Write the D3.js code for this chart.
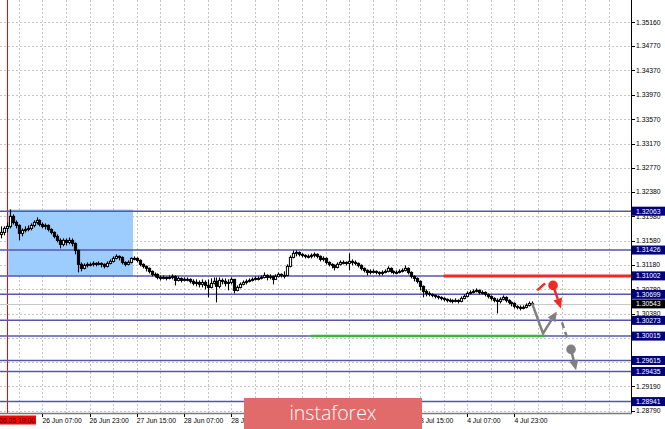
<!DOCTYPE html>
<html><head><meta charset="utf-8">
<script src="https://cdn.jsdelivr.net/npm/d3@7"></script>
<style>html,body{margin:0;padding:0;background:#fff;overflow:hidden}</style>
</head><body><svg id="c" width="665" height="429"></svg>
<script>
// ---------- DATA (GBP/USD H1, 25 Jun 17:00 -> 5 Jul 05:00) ----------
const firstOpen = 1.31682;
const closes = [
1.31715,1.31781,1.31814,1.31978,1.31879,1.31830,1.31699,1.31748,1.31764,1.31781,
1.31830,1.31879,1.31912,1.31846,1.31814,1.31830,1.31764,1.31715,1.31650,1.31584,
1.31519,1.31584,1.31551,1.31584,1.31535,1.31420,1.31191,1.31125,1.31174,1.31191,
1.31191,1.31207,1.31191,1.31207,1.31191,1.31158,1.31207,1.31240,1.31289,1.31322,
1.31305,1.31223,1.31191,1.31223,1.31289,1.31289,1.31256,1.31191,1.31158,1.31125,
1.31076,1.31027,1.31027,1.30977,1.30961,1.30977,1.30961,1.30977,1.30994,1.30928,
1.30961,1.30928,1.30945,1.30945,1.30912,1.30879,1.30895,1.30863,1.30895,1.30846,
1.30813,1.30879,1.30912,1.30830,1.30928,1.30912,1.30879,1.30895,1.30945,1.30764,
1.30813,1.30863,1.30895,1.30912,1.30928,1.30945,1.30961,1.30961,1.30977,1.31010,
1.30977,1.30994,1.30945,1.30994,1.31027,1.31010,1.31010,1.31158,1.31305,1.31371,
1.31387,1.31355,1.31338,1.31322,1.31322,1.31338,1.31355,1.31322,1.31273,1.31289,
1.31223,1.31191,1.31174,1.31141,1.31191,1.31223,1.31223,1.31207,1.31240,1.31223,
1.31207,1.31174,1.31125,1.31092,1.31059,1.31076,1.31076,1.31059,1.31043,1.31059,
1.31076,1.31125,1.31076,1.31059,1.31059,1.31076,1.31092,1.31125,1.31059,1.30994,
1.30961,1.30912,1.30830,1.30748,1.30715,1.30699,1.30682,1.30666,1.30650,1.30633,
1.30617,1.30600,1.30600,1.30584,1.30600,1.30584,1.30633,1.30666,1.30715,1.30731,
1.30748,1.30764,1.30731,1.30731,1.30699,1.30666,1.30633,1.30600,1.30584,1.30617,
1.30650,1.30600,1.30568,1.30551,1.30502,1.30486,1.30469,1.30486,1.30518,1.30551,
1.30543];
const highs = [
1.31814,1.31814,1.31879,1.32093,1.32010,1.31912,1.31846,1.31781,1.31814,1.31830,
1.31863,1.31912,1.31961,1.31929,1.31879,1.31863,1.31846,1.31781,1.31732,1.31682,
1.31617,1.31617,1.31617,1.31633,1.31617,1.31551,1.31437,1.31223,1.31207,1.31223,
1.31223,1.31240,1.31223,1.31240,1.31223,1.31207,1.31240,1.31273,1.31322,1.31355,
1.31338,1.31322,1.31240,1.31256,1.31305,1.31322,1.31305,1.31273,1.31207,1.31174,
1.31141,1.31092,1.31059,1.31043,1.31010,1.31010,1.30994,1.31010,1.31027,1.31010,
1.30994,1.30977,1.30977,1.30977,1.30961,1.30945,1.30945,1.30928,1.30945,1.30928,
1.30945,1.30961,1.30977,1.30977,1.30977,1.30961,1.30961,1.30945,1.30977,1.30945,
1.30846,1.30895,1.30928,1.30945,1.30961,1.30977,1.30994,1.30994,1.31010,1.31059,
1.31027,1.31027,1.31010,1.31027,1.31059,1.31043,1.31076,1.31191,1.31338,1.31420,
1.31420,1.31404,1.31371,1.31355,1.31355,1.31371,1.31387,1.31371,1.31338,1.31322,
1.31305,1.31240,1.31207,1.31191,1.31223,1.31256,1.31256,1.31240,1.31371,1.31273,
1.31256,1.31223,1.31191,1.31141,1.31109,1.31109,1.31109,1.31092,1.31076,1.31092,
1.31109,1.31158,1.31141,1.31092,1.31092,1.31109,1.31125,1.31174,1.31141,1.31076,
1.31010,1.30977,1.30928,1.30846,1.30781,1.30748,1.30715,1.30699,1.30682,1.30666,
1.30650,1.30633,1.30633,1.30617,1.30633,1.30617,1.30666,1.30699,1.30748,1.30764,
1.30781,1.30797,1.30781,1.30764,1.30748,1.30715,1.30682,1.30650,1.30633,1.30650,
1.30682,1.30666,1.30617,1.30584,1.30568,1.30518,1.30518,1.30518,1.30551,1.30584,
1.30584];
const lows = [
1.31617,1.31666,1.31715,1.31781,1.31846,1.31781,1.31584,1.31650,1.31715,1.31732,
1.31748,1.31797,1.31846,1.31814,1.31781,1.31764,1.31732,1.31682,1.31617,1.31551,
1.31453,1.31486,1.31502,1.31519,1.31486,1.31355,1.31059,1.31076,1.31109,1.31141,
1.31158,1.31158,1.31158,1.31174,1.31141,1.31125,1.31141,1.31191,1.31223,1.31273,
1.31256,1.31191,1.31158,1.31174,1.31207,1.31256,1.31223,1.31158,1.31125,1.31076,
1.31043,1.30994,1.30977,1.30945,1.30928,1.30945,1.30928,1.30945,1.30945,1.30846,
1.30912,1.30895,1.30912,1.30912,1.30879,1.30846,1.30830,1.30813,1.30813,1.30781,
1.30650,1.30797,1.30863,1.30568,1.30797,1.30863,1.30830,1.30764,1.30863,1.30715,
1.30748,1.30797,1.30846,1.30863,1.30895,1.30912,1.30928,1.30928,1.30945,1.30961,
1.30928,1.30945,1.30863,1.30945,1.30977,1.30977,1.30961,1.30994,1.31141,1.31289,
1.31322,1.31322,1.31305,1.31289,1.31289,1.31289,1.31305,1.31289,1.31240,1.31240,
1.31191,1.31158,1.31125,1.31092,1.31125,1.31174,1.31191,1.31174,1.31092,1.31174,
1.31174,1.31141,1.31092,1.31059,1.31010,1.31027,1.31043,1.31027,1.31010,1.31010,
1.31043,1.31059,1.31043,1.31027,1.31027,1.31043,1.31059,1.31076,1.31027,1.30961,
1.30912,1.30879,1.30764,1.30650,1.30666,1.30666,1.30650,1.30633,1.30617,1.30600,
1.30584,1.30568,1.30568,1.30551,1.30568,1.30551,1.30568,1.30617,1.30650,1.30699,
1.30715,1.30731,1.30699,1.30699,1.30666,1.30633,1.30600,1.30568,1.30387,1.30551,
1.30600,1.30568,1.30535,1.30502,1.30469,1.30453,1.30436,1.30453,1.30469,1.30502,
1.30502];
const priceTicks = ["1.35160","1.34770","1.34370","1.33970","1.33570","1.33170","1.32770","1.32380",
  "1.31980","1.31580","1.31180","1.30780","1.30380","1.29990","1.29590","1.29190","1.28790"];
// time labels visible in the picture (others lie under the watermark)
const timeLabels = ["26 Jun 07:00","26 Jun 23:00","27 Jun 15:00","28 Jun 07:00","28 Jun 23:00",
  "3 Jul 15:00","4 Jul 07:00","4 Jul 23:00"];
const timeLabelBars = [14,30,46,62,78,142,158,174];
const timeTickBars = [14,30,46,62,78,94,110,126,142,158,174];
const levels = [1.32063,1.31426,1.31002,1.30699,1.30273,1.30015,1.29615,1.29435,1.28941];
const currentPrice = 1.30543;
const separatorBar = 2, separatorLabel = "2019.06.25 19:00";
const zoneBox = {bar0: 2.4, bar1: 44.7, top: 1.32090, bottom: 1.31002};
const resistance = {price: 1.31002, bar0: 150};
const support = {price: 1.30015, bar0: 105, bar1: 184.5};
const redSlash = [[181.7,1.30764],[184.4,1.30879]];
const redDot = [187.1,1.30846], redTip = [189.8,1.30469];
const greyPath = [[180,1.30551],[183.7,1.30059],[188.4,1.30420]];
const greyDash = [[190.1,1.30240],[192.2,1.29945]];
const greyDot = [193.2,1.29797], greyTip = [194.9,1.29453];

// ---------- CHART ----------
const W = 665, H = 429, plotR = 631, plotB = 413;
const svg = d3.select("#c");
const font = "'Liberation Sans', Arial, sans-serif";
const x = d3.scaleLinear().domain([0, 180]).range([1.1, 532.1]);
const y = d3.scaleLinear().domain([1.28790, 1.35160]).range([410.8, 22.3]);
const lastBar = x.invert(plotR);

const candles = closes.map((c, i) => ({i, o: i ? closes[i-1] : firstOpen, h: highs[i], l: lows[i], c}));

svg.append("rect").attr("width", W).attr("height", H).attr("fill", "#fff");
const plot = svg.append("g");
plot.append("clipPath").attr("id","pc").append("rect").attr("width", plotR).attr("height", plotB);
const g = plot.append("g").attr("clip-path","url(#pc)");

// grid
g.selectAll(".hg").data(priceTicks).join("line")
  .attr("x1",0).attr("x2",plotR).attr("y1",d=>Math.round(y(+d))+0.5).attr("y2",d=>Math.round(y(+d))+0.5)
  .attr("stroke","#c4c4c4").attr("stroke-dasharray","2,2");
g.selectAll(".vg").data(d3.range(-2, lastBar, 8)).join("line")
  .attr("y1",0).attr("y2",plotB).attr("x1",d=>Math.round(x(d))+0.5).attr("x2",d=>Math.round(x(d))+0.5)
  .attr("stroke","#c4c4c4").attr("stroke-dasharray","2,2");

// zone rectangle
g.append("rect").attr("x",x(zoneBox.bar0)).attr("width",x(zoneBox.bar1)-x(zoneBox.bar0))
  .attr("y",y(zoneBox.top)).attr("height",y(zoneBox.bottom)-y(zoneBox.top)).attr("fill","#9dcdff");

// separator
g.append("line").attr("x1",Math.round(x(separatorBar))+0.5).attr("x2",Math.round(x(separatorBar))+0.5)
  .attr("y1",0).attr("y2",plotB).attr("stroke","#ff0000").attr("stroke-width",1);

// levels
g.selectAll(".lv").data(levels).join("line")
  .attr("x1",0).attr("x2",plotR).attr("y1",d=>y(d)).attr("y2",d=>y(d))
  .attr("stroke","#5656ac").attr("stroke-width",1.5);
g.append("line").attr("x1",0).attr("x2",plotR).attr("y1",Math.round(y(currentPrice))+0.5).attr("y2",Math.round(y(currentPrice))+0.5)
  .attr("stroke","#c8c8c8").attr("stroke-width",1);
g.append("line").attr("x1",x(resistance.bar0)).attr("x2",plotR).attr("y1",y(resistance.price)).attr("y2",y(resistance.price))
  .attr("stroke","#f02828").attr("stroke-width",3);
g.append("line").attr("x1",x(support.bar0)).attr("x2",x(support.bar1)).attr("y1",y(support.price)).attr("y2",y(support.price))
  .attr("stroke","#3cb43c").attr("stroke-width",2.5);

// candles
const cg = g.append("g");
cg.selectAll(".wk").data(candles).join("line")
  .attr("x1",d=>Math.round(x(d.i))+0.5).attr("x2",d=>Math.round(x(d.i))+0.5)
  .attr("y1",d=>y(d.h)).attr("y2",d=>y(d.l)).attr("stroke","#000").attr("stroke-width",1.1);
cg.selectAll(".bd").data(candles).join("rect")
  .attr("x",d=>Math.round(x(d.i))-0.6).attr("width",2.2)
  .attr("y",d=>y(Math.max(d.o,d.c))).attr("height",d=>Math.max(1,Math.abs(y(d.o)-y(d.c))))
  .attr("fill",d=>d.c>=d.o?"#fff":"#000").attr("stroke","#000").attr("stroke-width",1);

// forecast drawings
const P = p => [x(p[0]), y(p[1])];
const line = d3.line().x(d=>x(d[0])).y(d=>y(d[1]));
function arrowHead(from, tip, color){
  const [x0,y0]=P(from),[x1,y1]=P(tip);
  const dx=x1-x0, dy=y1-y0, L=Math.hypot(dx,dy), ux=dx/L, uy=dy/L;
  const bx=x1-ux*10, by=y1-uy*10;
  g.append("path").attr("d",`M${x1},${y1}L${bx-uy*4.5},${by+ux*4.5}L${bx+uy*4.5},${by-ux*4.5}Z`).attr("fill",color);
  return [bx,by];
}
g.append("path").attr("d",line(redSlash)).attr("stroke","#f02828").attr("stroke-width",2.5).attr("fill","none");
{
  const b = arrowHead(redDot, redTip, "#f02828");
  g.append("line").attr("x1",x(redDot[0])).attr("y1",y(redDot[1])).attr("x2",b[0]).attr("y2",b[1]).attr("stroke","#f02828").attr("stroke-width",2.5);
  g.append("circle").attr("cx",x(redDot[0])).attr("cy",y(redDot[1])).attr("r",4.8).attr("fill","#f02828");
}
{
  const b = arrowHead(greyPath[1], greyPath[2], "#808080");
  const pts = [greyPath[0], greyPath[1]].map(P).concat([b]);
  g.append("path").attr("d","M"+pts.map(p=>p.join(",")).join("L")).attr("stroke","#808080").attr("stroke-width",2.5).attr("fill","none");
  g.append("path").attr("d",line(greyDash)).attr("stroke","#808080").attr("stroke-width",2.5).attr("stroke-dasharray","6,4").attr("fill","none");
  const b2 = arrowHead(greyDot, greyTip, "#808080");
  g.append("line").attr("x1",x(greyDot[0])).attr("y1",y(greyDot[1])).attr("x2",b2[0]).attr("y2",b2[1]).attr("stroke","#808080").attr("stroke-width",2.5);
  g.append("circle").attr("cx",x(greyDot[0])).attr("cy",y(greyDot[1])).attr("r",4.8).attr("fill","#808080");
}

// axes frame
svg.append("line").attr("x1",plotR+0.5).attr("x2",plotR+0.5).attr("y1",0).attr("y2",plotB+1).attr("stroke","#000");
svg.append("line").attr("x1",0).attr("x2",plotR+1).attr("y1",plotB+0.5).attr("y2",plotB+0.5).attr("stroke","#7a7a7a").attr("stroke-width",1.5);

// price axis
const pa = svg.append("g");
pa.selectAll("line").data(priceTicks).join("line")
  .attr("x1",plotR+1).attr("x2",plotR+4).attr("y1",d=>Math.round(y(+d))+0.5).attr("y2",d=>Math.round(y(+d))+0.5).attr("stroke","#000");
pa.selectAll("text").data(priceTicks).join("text")
  .attr("x",636).attr("y",d=>y(+d)).attr("dy","0.35em").text(d=>d)
  .attr("font-family",font).attr("font-size",6.8).attr("fill","#000");
const lab = svg.append("g");
const lvLabels = levels.map(v=>({v, bg:"#00007c"})).concat([{v:currentPrice, bg:"#000"}]);
lab.selectAll("rect").data(lvLabels).join("rect")
  .attr("x",plotR+1).attr("width",W-plotR-1).attr("y",d=>y(d.v)-4.5).attr("height",9).attr("fill",d=>d.bg);
lab.selectAll("text").data(lvLabels).join("text")
  .attr("x",636).attr("y",d=>y(d.v)).attr("dy","0.35em").text(d=>d.v.toFixed(5))
  .attr("font-family",font).attr("font-size",6.8).attr("fill","#fff");

// time axis
const ta = svg.append("g");
ta.selectAll("line").data(timeTickBars).join("line")
  .attr("x1",d=>Math.round(x(d))+0.5).attr("x2",d=>Math.round(x(d))+0.5).attr("y1",plotB+1).attr("y2",plotB+4).attr("stroke","#000");
ta.selectAll("text").data(timeLabels).join("text")
  .attr("x",(d,i)=>x(timeLabelBars[i])).attr("y",423).text(d=>d)
  .attr("font-family",font).attr("font-size",6.8).attr("fill","#000");
svg.append("rect").attr("x",0).attr("y",415.5).attr("width",36).attr("height",9).attr("fill","#ff0000");
svg.append("text").attr("x",35).attr("y",423).attr("text-anchor","end").text(separatorLabel)
  .attr("font-family",font).attr("font-size",6.8).attr("fill","#300");

// watermark logo
svg.append("rect").attr("x",244).attr("y",398).attr("width",178).attr("height",33).attr("fill","#e16a6a");
svg.append("text").attr("x",333).attr("y",420).attr("text-anchor","middle").text("instaforex")
  .attr("font-family","'Open Sans', sans-serif").attr("font-weight",300).attr("font-size",19.5).attr("fill","#fff");
</script></body></html>
